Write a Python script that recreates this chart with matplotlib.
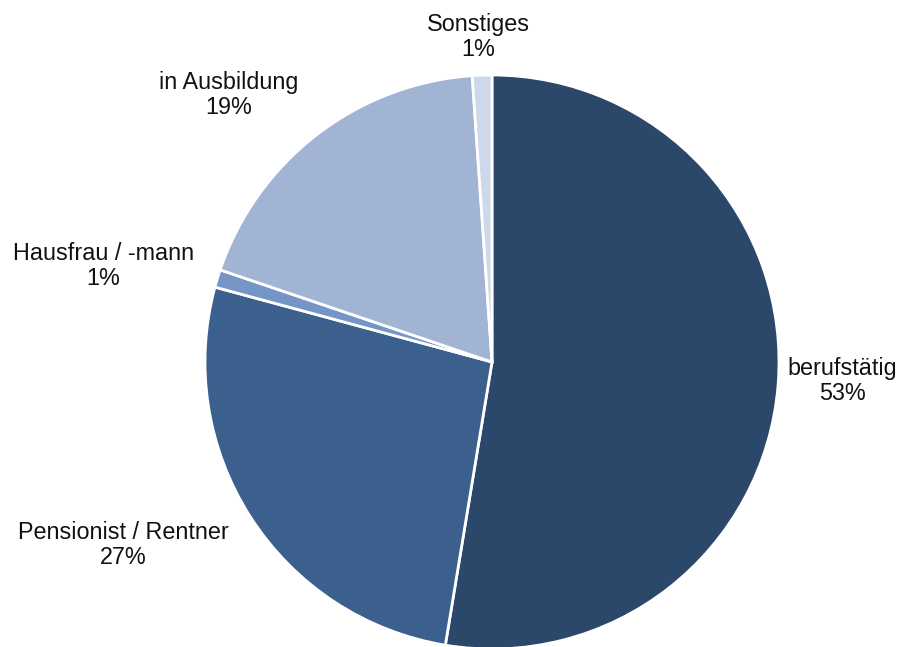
import matplotlib
matplotlib.use("Agg")
import matplotlib.pyplot as plt

categories = ["berufstätig", "Pensionist / Rentner", "Hausfrau / -mann", "in Ausbildung", "Sonstiges"]
shares = [52.6, 26.6, 1.0, 18.7, 1.1]
colors = ["#2B4769", "#3B608D", "#7595C6", "#A2B4D4", "#CFD8E8"]

# label anchor points (pie radius = 1)
label_pos = [(1.22, -0.066), (-1.286, -0.638), (-1.355, 0.334), (-0.916, 0.93), (-0.049, 1.132)]

plt.rcParams['font.family'] = ['Liberation Sans', 'DejaVu Sans']

fig = plt.figure(figsize=(9, 6.47), dpi=100)
ax = fig.add_axes([0, 0, 1, 1])
ax.pie(shares, colors=colors, startangle=90, counterclock=False,
       wedgeprops=dict(edgecolor='white', linewidth=2.0))

for cat, val, (x, y) in zip(categories, shares, label_pos):
    ax.text(x, y, f"{cat}\n{val:.0f}%", ha='center', va='center',
            fontsize=16.8, color='#111111', linespacing=1.15)

ax.set_xlim(-492 / 287, 408 / 287)
ax.set_ylim(-285 / 287, 362 / 287)
ax.set_aspect('auto')
ax.axis('off')

fig.savefig("out.png", dpi=100)
